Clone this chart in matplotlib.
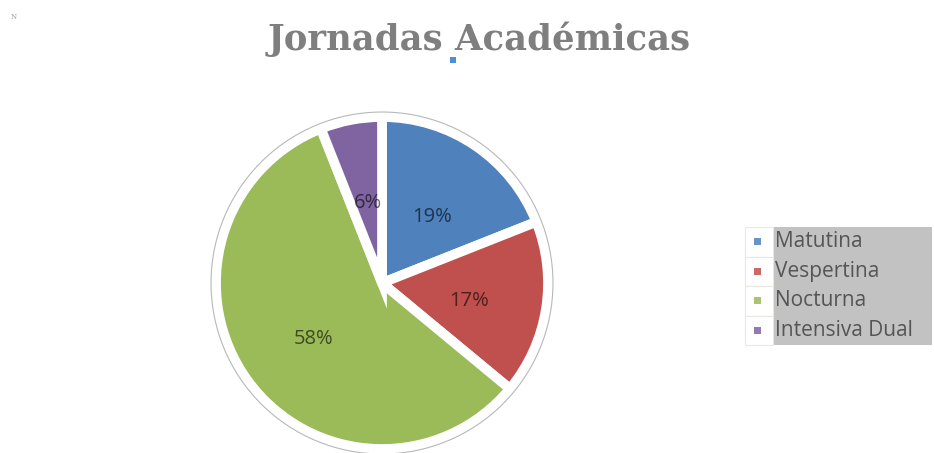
import matplotlib
matplotlib.use("Agg")
import matplotlib.pyplot as plt
from matplotlib.patches import Circle, Rectangle

# data
labels = ["Matutina", "Vespertina", "Nocturna", "Intensiva Dual"]
values = [19, 17, 58, 6]
colors = ["#4f81bd", "#c0504d", "#9bbb59", "#8064a2"]
title = "Jornadas Académicas"

W, H = 934, 453
fig = plt.figure(figsize=(W / 100, H / 100), dpi=100)
fig.patch.set_facecolor("white")

# pie axes: centre at (382, 283) px, radius 166 px
R = 166
half = 1.1
side = 2 * half * R
cx, cy = 382, H - 283
ax = fig.add_axes([(cx - side / 2) / W, (cy - side / 2) / H, side / W, side / H])

wedges, texts, autotexts = ax.pie(
    values, colors=colors, startangle=90, counterclock=False,
    radius=1.0, autopct="%1.0f%%", pctdistance=0.52,
    wedgeprops=dict(edgecolor="white", linewidth=7),
    textprops=dict(family="Open Sans", fontsize=14.5, color="black", alpha=0.6),
)
ax.set_xlim(-half, half)
ax.set_ylim(-half, half)
ax.set_aspect("equal")
ax.axis("off")
for w in wedges:
    w.set_clip_on(False)
# labels sit a little lower in the original
for t in autotexts:
    x, y = t.get_position()
    t.set_position((x + 0.01, y - 0.03))
ax.add_patch(Circle((0, 0), 1.03, fill=False, edgecolor="#b8b8b8", linewidth=0.8, clip_on=False))

# title
fig.text(479 / W, 1 - 50 / H, title, ha="center", va="baseline",
         family="DejaVu Serif", fontweight="bold", fontsize=25.5, color="#7f7f7f")

# small artefacts from the source image
fig.patches.append(Rectangle((450 / W, 1 - 63 / H), 6 / W, 6 / H, transform=fig.transFigure,
                             facecolor="#4a8fd8", edgecolor="none"))
fig.text(11 / W, 1 - 19 / H, "N", fontsize=5, color="#9a9a9a", family="DejaVu Serif")

# legend, drawn by hand to get the grey panel with white marker column
lx0, lx1, lx2 = 745, 773, 932
ly0, row_h = 227, 29.5
n = len(labels)
fig.patches.append(Rectangle((lx1 / W, 1 - (ly0 + n * row_h) / H), (lx2 - lx1) / W, n * row_h / H,
                             transform=fig.transFigure, facecolor="#c2c2c2", edgecolor="none"))
for i, (lab, col) in enumerate(zip(labels, colors)):
    top = ly0 + i * row_h
    fig.patches.append(Rectangle((lx0 / W, 1 - (top + row_h) / H), (lx1 - lx0) / W, row_h / H,
                                 transform=fig.transFigure, facecolor="white",
                                 edgecolor="#ebe8e0", linewidth=0.8))
    yc = top + row_h / 2
    fig.patches.append(Rectangle((754 / W, 1 - (yc + 3.5) / H), 7 / W, 7 / H,
                                 transform=fig.transFigure, facecolor=col, edgecolor="none", alpha=0.85))
    fig.text(775 / W, 1 - yc / H, lab, ha="left", va="center", family="Open Sans",
             fontsize=15, color="#555555")

fig.savefig("out.png", dpi=100)
